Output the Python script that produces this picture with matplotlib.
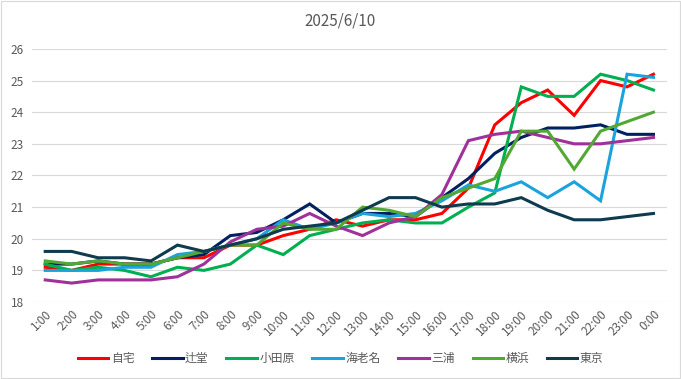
import matplotlib.pyplot as plt
from matplotlib.patches import Rectangle

plt.rcParams['font.family'] = ['Noto Sans CJK JP', 'DejaVu Sans']

# hourly temperatures 2025/6/10
hours = ['1:00', '2:00', '3:00', '4:00', '5:00', '6:00', '7:00', '8:00', '9:00', '10:00',
         '11:00', '12:00', '13:00', '14:00', '15:00', '16:00', '17:00', '18:00', '19:00',
         '20:00', '21:00', '22:00', '23:00', '0:00']

jitaku = [19.1, 19.0, 19.2, 19.2, 19.2, 19.4, 19.4, 19.8, 19.8, 20.1, 20.3, 20.6,
          20.4, 20.6, 20.6, 20.8, 21.6, 23.6, 24.3, 24.7, 23.9, 25.0, 24.8, 25.2]
tsujido = [19.2, 19.2, 19.3, 19.2, 19.2, 19.4, 19.5, 20.1, 20.2, 20.6, 21.1, 20.5,
           20.8, 20.8, 20.7, 21.3, 21.9, 22.7, 23.2, 23.5, 23.5, 23.6, 23.3, 23.3]
odawara = [19.2, 19.0, 19.1, 19.0, 18.8, 19.1, 19.0, 19.2, 19.8, 19.5, 20.1, 20.3,
           20.5, 20.6, 20.5, 20.5, 21.0, 21.45, 24.8, 24.5, 24.5, 25.2, 25.0, 24.7]
ebina = [19.0, 19.0, 19.0, 19.1, 19.1, 19.5, 19.6, 19.8, 20.0, 20.6, 20.3, 20.5,
         20.8, 20.7, 20.8, 21.2, 21.7, 21.5, 21.8, 21.3, 21.8, 21.2, 25.2, 25.1]
miura = [18.7, 18.6, 18.7, 18.7, 18.7, 18.8, 19.2, 19.9, 20.3, 20.4, 20.8, 20.4,
         20.1, 20.5, 20.7, 21.4, 23.1, 23.3, 23.4, 23.2, 23.0, 23.0, 23.1, 23.2]
yokohama = [19.3, 19.2, 19.3, 19.2, 19.2, 19.4, 19.6, 19.8, 19.8, 20.5, 20.3, 20.3,
            21.0, 20.9, 20.7, 21.3, 21.6, 21.9, 23.4, 23.4, 22.2, 23.4, 23.7, 24.0]
tokyo = [19.6, 19.6, 19.4, 19.4, 19.3, 19.8, 19.6, 19.8, 20.0, 20.3, 20.4, 20.5,
         20.9, 21.3, 21.3, 21.0, 21.1, 21.1, 21.3, 20.9, 20.6, 20.6, 20.7, 20.8]

names = ['自宅', '辻堂', '小田原', '海老名', '三浦', '横浜', '東京']
series = [jitaku, tsujido, odawara, ebina, miura, yokohama, tokyo]
colors = ['#FF0000', '#002060', '#00B050', '#1BA3DC', '#A0309A', '#52A832', '#0F3B4F']

fig = plt.figure(figsize=(6.81, 3.79), dpi=100)
ax = fig.add_axes([0.047, 0.203, 0.932, 0.668])

x = range(len(hours))
for vals, name, c in zip(series, names, colors):
    ax.plot(x, vals, color=c, linewidth=2.2, label=name, solid_joinstyle='miter')

ax.set_xlim(-0.5, len(hours) - 0.5)
ax.set_ylim(18, 26)
ax.set_yticks(range(18, 27))
ax.set_xticks(list(x))
ax.set_xticklabels(hours, rotation=45, ha='right', rotation_mode='anchor')
ax.tick_params(length=0, colors='#595959', labelsize=8.5)
ax.tick_params(axis='y', pad=6)
ax.tick_params(axis='x', pad=4)
ax.grid(axis='y', color='#D9D9D9', linewidth=0.8)
ax.set_axisbelow(True)
for s in ax.spines.values():
    s.set_visible(False)

fig.text(0.5, 0.945, '2025/6/10', ha='center', va='center', fontsize=11, color='#595959')

fig.legend(loc='center', bbox_to_anchor=(0.5, 0.055), ncol=7, frameon=False,
           fontsize=8.5, labelcolor='#595959', handlelength=2.6, handletextpad=0.2,
           columnspacing=1.5)

# thin chart border
fig.patches.append(Rectangle((0.001, 0.002), 0.997, 0.996, transform=fig.transFigure,
                             fill=False, edgecolor='#D9D9D9', linewidth=0.8))

fig.savefig('out.png', dpi=100)
